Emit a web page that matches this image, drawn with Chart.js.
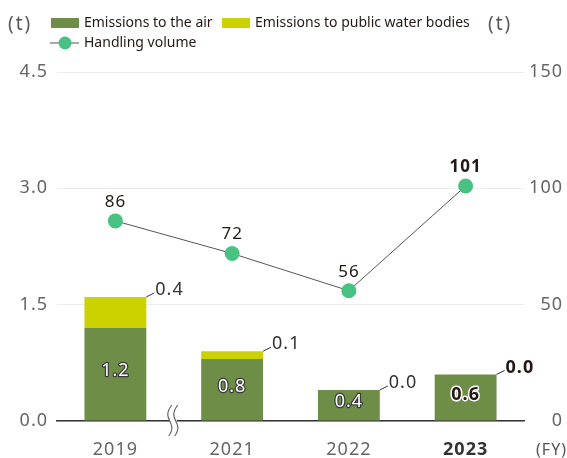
<!DOCTYPE html>
<html>
<head>
<meta charset="utf-8">
<script src="https://cdn.jsdelivr.net/npm/chart.js@4.4.1/dist/chart.umd.min.js"></script>
<style>
  html, body { margin: 0; padding: 0; background: #fff; }
  #wrap { position: relative; width: 567px; height: 458px; }
</style>
</head>
<body>
<div id="wrap"><canvas id="c" width="567" height="458"></canvas></div>
<script>
// Fiscal years shown on the x axis
const years = ['2019', '2021', '2022', '2023'];
// Emissions (t), left axis
const airEmissions = [1.2, 0.8, 0.4, 0.6];
const waterEmissions = [0.4, 0.1, 0.0, 0.0];
// Handling volume (t), right axis
const handlingVolume = [86, 72, 56, 101];
// Axis tick values
const leftTicks = [0, 1.5, 3.0, 4.5];
const rightTicks = [0, 50, 100, 150];

const FONT = '"Noto Sans", "DejaVu Sans", sans-serif';
const AIR = '#6e8e48';
const WATER = '#ccd200';
const DOT = '#48c283';
const LAST = years.length - 1;

// Slightly open letter spacing for the numerals
const spacing = {
  id: 'spacing',
  beforeDraw(chart) { chart.ctx.letterSpacing = '1px'; }
};

// Value labels, legend, unit captions and the axis break mark
const annotate = {
  id: 'annotate',
  afterDatasetsDraw(chart) {
    const ctx = chart.ctx;
    const airMeta = chart.getDatasetMeta(0);
    const waterMeta = chart.getDatasetMeta(1);
    const lineMeta = chart.getDatasetMeta(2);
    ctx.save();
    ctx.textBaseline = 'middle';
    ctx.letterSpacing = '1px';

    // labels inside the air bars
    airMeta.data.forEach((bar, i) => {
      const p = bar.getProps(['x', 'y', 'base'], true);
      const cy = (p.y + p.base) / 2 - 3;
      const txt = airEmissions[i].toFixed(1);
      ctx.textAlign = 'center';
      ctx.lineJoin = 'round';
      if (i === LAST) {
        ctx.font = 'bold 18px ' + FONT;
        ctx.lineWidth = 3;
        ctx.strokeStyle = '#ffffff';
        ctx.strokeText(txt, p.x, cy);
        ctx.fillStyle = '#231815';
        ctx.fillText(txt, p.x, cy);
      } else {
        ctx.font = '18px ' + FONT;
        ctx.lineWidth = 2.5;
        ctx.strokeStyle = '#3a3a3a';
        ctx.strokeText(txt, p.x, cy);
        ctx.fillStyle = '#ffffff';
        ctx.fillText(txt, p.x, cy);
      }
    });

    // water labels with a short leader from the bar's top-right corner
    waterMeta.data.forEach((bar, i) => {
      const p = bar.getProps(['x', 'y', 'width'], true);
      const x0 = p.x + p.width / 2;
      const y0 = p.y;
      ctx.strokeStyle = '#333';
      ctx.lineWidth = 1;
      ctx.beginPath();
      ctx.moveTo(x0, y0);
      ctx.lineTo(x0 + 8, y0 - 4);
      ctx.stroke();
      ctx.textAlign = 'left';
      ctx.font = (i === LAST ? 'bold ' : '') + '18px ' + FONT;
      ctx.fillStyle = i === LAST ? '#231815' : '#333';
      ctx.fillText(waterEmissions[i].toFixed(1), x0 + 9, y0 - 7);
    });

    // handling volume labels above the points
    lineMeta.data.forEach((pt, i) => {
      ctx.textAlign = 'center';
      ctx.font = (i === LAST ? 'bold ' : '') + '17px ' + FONT;
      ctx.fillStyle = '#231815';
      ctx.fillText(String(handlingVolume[i]), pt.x, pt.y - 19);
    });

    // axis break between 2019 and 2021
    const xs = chart.scales.x;
    const mid = (xs.getPixelForValue(0) + xs.getPixelForValue(1)) / 2;
    const by = chart.chartArea.bottom;
    ctx.fillStyle = '#fff';
    ctx.fillRect(mid - 4, by - 2, 7, 4);
    ctx.strokeStyle = '#666';
    ctx.lineWidth = 1.2;
    [mid - 4, mid + 2].forEach(bx => {
      ctx.beginPath();
      ctx.moveTo(bx + 2, by - 16);
      ctx.bezierCurveTo(bx - 4, by - 8, bx - 2, by - 4, bx, by);
      ctx.bezierCurveTo(bx + 2, by + 4, bx + 4, by + 8, bx - 1, by + 15);
      ctx.stroke();
    });

    // unit captions
    ctx.font = '19px ' + FONT;
    ctx.fillStyle = '#555';
    ctx.textAlign = 'left';
    ctx.letterSpacing = '2px';
    ctx.fillText('(t)', 8, 25);
    ctx.fillText('(t)', 488, 25);
    ctx.letterSpacing = '1px';
    ctx.font = '16px ' + FONT;
    ctx.textAlign = 'right';
    ctx.fillText('(FY)', 567, 450);

    // legend
    ctx.letterSpacing = '0px';
    ctx.textAlign = 'left';
    ctx.font = '14px ' + FONT;
    ctx.fillStyle = AIR;
    ctx.fillRect(51, 18, 28, 10);
    ctx.fillStyle = '#231815';
    ctx.fillText('Emissions to the air', 84, 23);
    ctx.fillStyle = WATER;
    ctx.fillRect(222, 18, 28, 10);
    ctx.fillStyle = '#231815';
    ctx.fillText('Emissions to public water bodies', 255, 23);
    ctx.strokeStyle = '#555';
    ctx.lineWidth = 1;
    ctx.beginPath();
    ctx.moveTo(50, 43);
    ctx.lineTo(79, 43);
    ctx.stroke();
    ctx.fillStyle = DOT;
    ctx.beginPath();
    ctx.arc(65, 43, 6.5, 0, Math.PI * 2);
    ctx.fill();
    ctx.fillStyle = '#231815';
    ctx.fillText('Handling volume', 84, 43);
    ctx.restore();
  }
};

new Chart(document.getElementById('c'), {
  data: {
    labels: years,
    datasets: [
      {
        type: 'bar', label: 'Emissions to the air', data: airEmissions,
        backgroundColor: AIR, yAxisID: 'y', stack: 's', order: 2,
        barPercentage: 0.53, categoryPercentage: 1
      },
      {
        type: 'bar', label: 'Emissions to public water bodies', data: waterEmissions,
        backgroundColor: WATER, yAxisID: 'y', stack: 's', order: 2,
        barPercentage: 0.53, categoryPercentage: 1
      },
      {
        type: 'line', label: 'Handling volume', data: handlingVolume,
        yAxisID: 'y1', order: 0, borderColor: '#555', borderWidth: 1,
        pointRadius: 7.5, pointHoverRadius: 7.5, pointBackgroundColor: DOT,
        pointBorderWidth: 0, tension: 0
      }
    ]
  },
  options: {
    responsive: false,
    animation: false,
    events: [],
    layout: { padding: { top: 72, bottom: 0, left: 0, right: 4 } },
    plugins: { legend: { display: false }, tooltip: { enabled: false } },
    scales: {
      x: {
        stacked: true,
        grid: { display: false },
        border: { display: true, color: '#333', width: 1.5 },
        ticks: {
          padding: 10,
          color: ctx => ctx.index === LAST ? '#333' : '#666',
          font: ctx => ({ family: FONT, size: 18, weight: ctx.index === LAST ? 'bold' : 'normal' })
        },
        afterFit: s => { s.height = 37; }
      },
      y: {
        stacked: true, position: 'left', min: 0, max: 4.5,
        afterBuildTicks: s => { s.ticks = leftTicks.map(v => ({ value: v })); },
        grid: { color: '#ececec', drawTicks: false },
        border: { display: false },
        ticks: {
          padding: 9, color: '#666', font: { family: FONT, size: 18 },
          callback: v => Number(v).toFixed(1)
        },
        afterFit: s => { s.width = 57; }
      },
      y1: {
        position: 'right', min: 0, max: 150,
        afterBuildTicks: s => { s.ticks = rightTicks.map(v => ({ value: v })); },
        grid: { display: false },
        border: { display: false },
        ticks: {
          padding: 4, color: '#666', font: { family: FONT, size: 18 },
          crossAlign: 'far'
        },
        afterFit: s => { s.width = 39; }
      }
    }
  },
  plugins: [spacing, annotate]
});
</script>
</body>
</html>
